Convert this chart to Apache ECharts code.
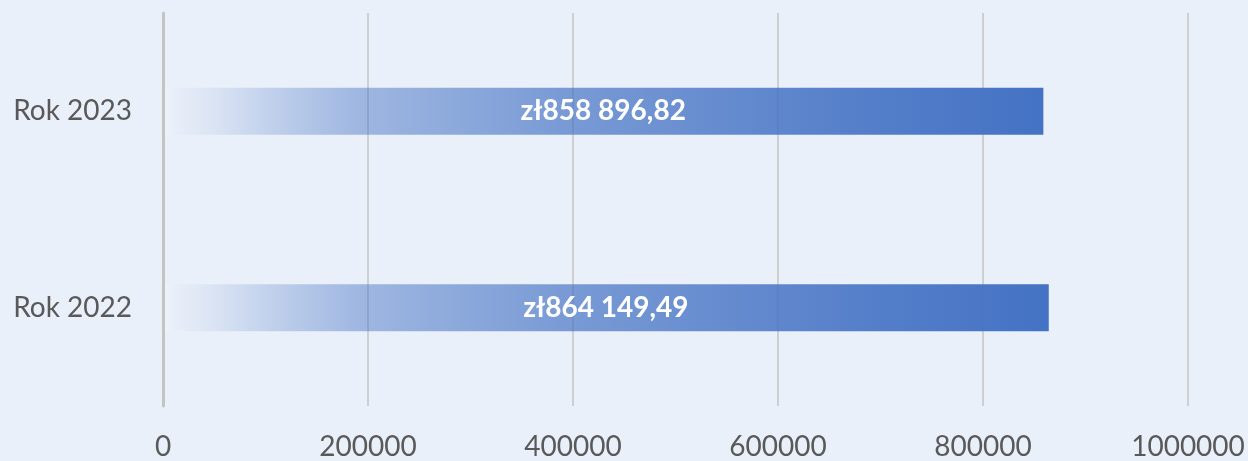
<!DOCTYPE html>
<html>
<head>
<meta charset="utf-8">
<script src="https://cdn.jsdelivr.net/npm/echarts@6/dist/echarts.min.js"></script>
<style>
  html, body { margin: 0; padding: 0; }
  body { background: #eaf0f9; }
  #chart { width: 1248px; height: 461px; }
</style>
</head>
<body>
<div id="chart"></div>
<script>
  // dane
  const categories = ['Rok 2022', 'Rok 2023']
  const values = [864149.49, 858896.82]
  const axisMin = 0
  const axisMax = 1000000
  const axisStep = 200000

  function formatPln(v) {
    const parts = v.toFixed(2).split('.')
    const whole = parts[0].replace(/\B(?=(\d{3})+(?!\d))/g, ' ')
    return 'zł' + whole + ',' + parts[1]
  }

  const chart = echarts.init(document.getElementById('chart'))

  const barGradient = new echarts.graphic.LinearGradient(0, 0, 1, 0, [
    { offset: 0, color: 'rgba(240,244,251,0.5)' },
    { offset: 0.06, color: 'rgba(200,214,238,0.5)' },
    { offset: 0.22, color: 'rgba(68,114,196,0.45)' },
    { offset: 0.45, color: 'rgba(68,114,196,0.68)' },
    { offset: 0.8, color: 'rgba(68,114,196,0.9)' },
    { offset: 1, color: 'rgba(68,114,196,1)' }
  ])

  chart.setOption({
    backgroundColor: '#eaf0f9',
    animation: false,
    grid: {
      left: 163,
      right: 60,
      top: 13,
      bottom: 53
    },
    xAxis: {
      type: 'value',
      min: axisMin,
      max: axisMax,
      interval: axisStep,
      axisLine: { show: false },
      axisTick: { show: false },
      axisLabel: {
        margin: 27,
        color: '#595959',
        fontSize: 28,
        fontFamily: 'Lato',
        formatter: v => String(v)
      },
      splitLine: {
        lineStyle: { color: '#cfcfcf', width: 2 }
      }
    },
    yAxis: {
      type: 'category',
      data: categories,
      z: 5,
      axisLine: {
        show: true,
        lineStyle: { color: '#c4c4c4', width: 3 }
      },
      axisTick: { show: false },
      axisLabel: {
        margin: 31,
        color: '#595959',
        fontSize: 28,
        fontFamily: 'Lato'
      }
    },
    series: [{
      type: 'bar',
      data: values,
      barWidth: '24%',
      itemStyle: { color: barGradient },
      label: {
        show: true,
        position: 'inside',
        color: '#ffffff',
        fontSize: 28,
        fontWeight: 'bold',
        fontFamily: 'Lato',
        formatter: p => formatPln(p.value)
      }
    }]
  })
</script>
</body>
</html>
